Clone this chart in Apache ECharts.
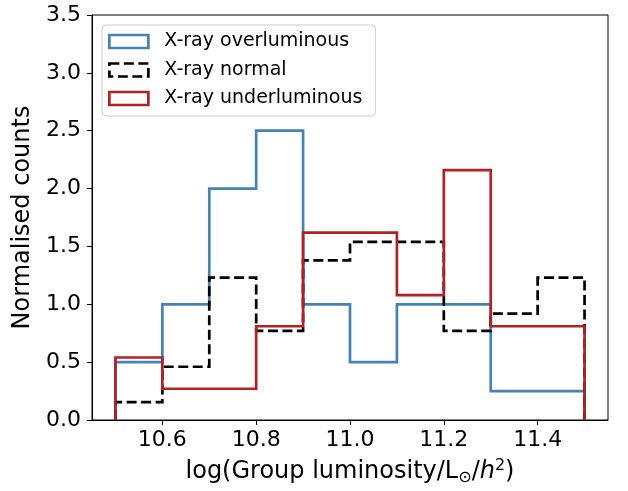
<!DOCTYPE html>
<html>
<head>
<meta charset="utf-8">
<script src="https://cdn.jsdelivr.net/npm/echarts@6/dist/echarts.min.js"></script>
<style>
  html, body { margin: 0; padding: 0; background: #fff; }
  #chart { width: 628px; height: 491px; }
</style>
</head>
<body>
<div id="chart"></div>
<script>
// bin edges of the histogram
var binEdges = [10.5, 10.6, 10.7, 10.8, 10.9, 11.0, 11.1, 11.2, 11.3, 11.4, 11.5];
// normalised counts per bin
var overluminous = [0.5, 1.0, 2.0, 2.5, 1.0, 0.5, 1.0, 1.0, 0.25, 0.25];
var normal = [0.154, 0.46, 1.23, 0.77, 1.38, 1.54, 1.54, 0.77, 0.92, 1.23];
var underluminous = [0.54, 0.27, 0.27, 0.81, 1.62, 1.62, 1.08, 2.16, 0.81, 0.81];
var xTicks = [10.6, 10.8, 11.0, 11.2, 11.4];
var seriesNames = ["X-ray overluminous", "X-ray normal", "X-ray underluminous"];

// outline of a step histogram (open at the bottom, like histtype='step')
function stepPath(vals) {
  var pts = [[binEdges[0], 0]];
  for (var i = 0; i < vals.length; i++) {
    pts.push([binEdges[i], vals[i]]);
    pts.push([binEdges[i + 1], vals[i]]);
  }
  pts.push([binEdges[binEdges.length - 1], 0]);
  return pts;
}

var font = "DejaVu Sans";
var colors = ["#4682b4", "#000000", "#b22222"];
var dash = [10, 4.5];

function histSeries(name, vals, color, dashed) {
  return {
    name: name,
    type: "line",
    data: stepPath(vals),
    symbol: "none",
    silent: true,
    lineStyle: { color: color, width: 2.7, type: dashed ? dash : "solid", cap: "butt", join: "miter" }
  };
}

var chart = echarts.init(document.getElementById("chart"));
chart.setOption({
  animation: false,
  grid: {
    left: 92, right: 20, top: 15, bottom: 69,
    show: true, borderColor: "#000", borderWidth: 1, backgroundColor: "transparent"
  },
  legend: {
    left: 102, top: 25,
    orient: "vertical",
    itemWidth: 39, itemHeight: 13, itemGap: 9.5,
    padding: [7, 13, 8, 6],
    backgroundColor: "rgba(255,255,255,0.8)",
    borderColor: "#cccccc", borderWidth: 1, borderRadius: 4,
    textStyle: { fontFamily: font, fontSize: 19, color: "#000", padding: [0, 0, 0, 11] },
    data: [
      { name: seriesNames[0], icon: "rect", itemStyle: { color: "transparent", borderColor: colors[0], borderWidth: 2.7 } },
      { name: seriesNames[1], icon: "rect", itemStyle: { color: "transparent", borderColor: colors[1], borderWidth: 2.7, borderType: dash } },
      { name: seriesNames[2], icon: "rect", itemStyle: { color: "transparent", borderColor: colors[2], borderWidth: 2.7 } }
    ]
  },
  xAxis: {
    type: "value",
    min: 10.45, max: 11.55,
    name: "log(Group luminosity/L{sub|⊙}/{it|h}{sup|2})",
    nameLocation: "middle",
    nameGap: 38,
    nameTextStyle: {
      fontFamily: font, fontSize: 24, color: "#000",
      rich: {
        sub: { fontFamily: font, fontSize: 16, color: "#000", verticalAlign: "bottom", padding: [10, 0, 0, 0] },
        it: { fontFamily: font, fontSize: 24, fontStyle: "italic", color: "#000" },
        sup: { fontFamily: font, fontSize: 16, color: "#000", verticalAlign: "top", padding: [0, 0, 12, 0] }
      }
    },
    splitLine: { show: false },
    axisLine: { show: true, onZero: false, lineStyle: { color: "#000", width: 1 } },
    axisTick: { show: true, length: 5, lineStyle: { color: "#000" }, customValues: xTicks },
    axisLabel: {
      fontFamily: font, fontSize: 22, color: "#000", margin: 9,
      customValues: xTicks,
      formatter: function (v) { return v.toFixed(1); }
    }
  },
  yAxis: {
    type: "value",
    min: 0, max: 3.5, interval: 0.5,
    name: "Normalised counts",
    nameLocation: "middle",
    nameGap: 55,
    nameTextStyle: { fontFamily: font, fontSize: 24, color: "#000" },
    splitLine: { show: false },
    axisLine: { show: true, lineStyle: { color: "#000", width: 1 } },
    axisTick: { show: true, length: 5, lineStyle: { color: "#000" } },
    axisLabel: {
      fontFamily: font, fontSize: 22, color: "#000", margin: 11,
      formatter: function (v) { return v.toFixed(1); }
    }
  },
  series: [
    histSeries(seriesNames[0], overluminous, colors[0], false),
    histSeries(seriesNames[1], normal, colors[1], true),
    histSeries(seriesNames[2], underluminous, colors[2], false)
  ]
});
</script>
</body>
</html>
